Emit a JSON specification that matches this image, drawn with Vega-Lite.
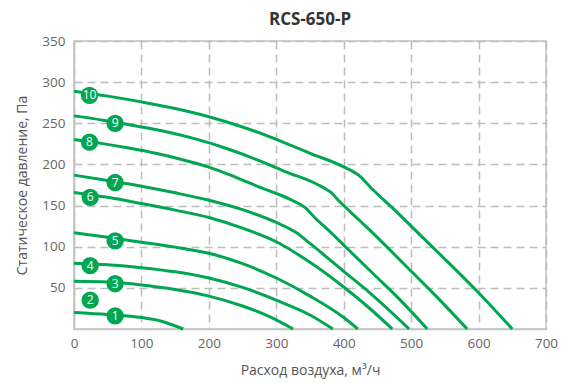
{
  "$schema": "https://vega.github.io/schema/vega-lite/v6.json",
  "autosize": {"type": "none"},
  "padding": {"left": 74, "top": 41, "right": 23, "bottom": 54},
  "width": 472,
  "height": 288,
  "background": "white",
  "title": {"text": "RCS-650-P", "anchor": "middle", "fontSize": 17, "fontWeight": "bold", "color": "#333333", "font": "Open Sans", "offset": 5},
  "config": {
    "view": {"stroke": "#c4c4c4", "strokeWidth": 1.5},
    "axis": {
      "domainColor": "#c4c4c4", "domainWidth": 1.5,
      "gridColor": "#bdbdbd", "gridDash": [8, 5], "gridWidth": 1.5,
      "ticks": false, "labelFlush": false,
      "labelFont": "Open Sans", "labelFontSize": 13.5, "labelColor": "#666666",
      "titleFont": "Open Sans", "titleFontSize": 14, "titleFontWeight": "normal", "titleColor": "#555555"
    }
  },
  "datasets": {
    "curves": [
      {"curve": "1", "q": 0, "p": 20}, {"curve": "1", "q": 50, "p": 17.5}, {"curve": "1", "q": 100, "p": 14}, {"curve": "1", "q": 130, "p": 9.5}, {"curve": "1", "q": 162, "p": 0},
      {"curve": "3", "q": 0, "p": 58}, {"curve": "3", "q": 50, "p": 57}, {"curve": "3", "q": 100, "p": 53.5}, {"curve": "3", "q": 150, "p": 48}, {"curve": "3", "q": 200, "p": 40}, {"curve": "3", "q": 250, "p": 28}, {"curve": "3", "q": 290, "p": 15}, {"curve": "3", "q": 325, "p": 0},
      {"curve": "4", "q": 0, "p": 80}, {"curve": "4", "q": 50, "p": 78}, {"curve": "4", "q": 100, "p": 74.5}, {"curve": "4", "q": 150, "p": 69.5}, {"curve": "4", "q": 200, "p": 62}, {"curve": "4", "q": 250, "p": 50.5}, {"curve": "4", "q": 300, "p": 35}, {"curve": "4", "q": 350, "p": 17}, {"curve": "4", "q": 384, "p": 0},
      {"curve": "5", "q": 0, "p": 117}, {"curve": "5", "q": 50, "p": 111.5}, {"curve": "5", "q": 100, "p": 105.5}, {"curve": "5", "q": 150, "p": 99.5}, {"curve": "5", "q": 200, "p": 92}, {"curve": "5", "q": 250, "p": 79.5}, {"curve": "5", "q": 300, "p": 62}, {"curve": "5", "q": 350, "p": 40}, {"curve": "5", "q": 400, "p": 14}, {"curve": "5", "q": 421, "p": 0},
      {"curve": "6", "q": 0, "p": 166}, {"curve": "6", "q": 50, "p": 160}, {"curve": "6", "q": 100, "p": 152.5}, {"curve": "6", "q": 150, "p": 144.5}, {"curve": "6", "q": 200, "p": 135.5}, {"curve": "6", "q": 250, "p": 122.5}, {"curve": "6", "q": 300, "p": 106}, {"curve": "6", "q": 350, "p": 81}, {"curve": "6", "q": 400, "p": 51}, {"curve": "6", "q": 440, "p": 24}, {"curve": "6", "q": 472, "p": 0},
      {"curve": "7", "q": 0, "p": 187}, {"curve": "7", "q": 50, "p": 180.5}, {"curve": "7", "q": 100, "p": 173.5}, {"curve": "7", "q": 150, "p": 165.5}, {"curve": "7", "q": 200, "p": 156.5}, {"curve": "7", "q": 250, "p": 145}, {"curve": "7", "q": 300, "p": 129.5}, {"curve": "7", "q": 330, "p": 117}, {"curve": "7", "q": 350, "p": 104}, {"curve": "7", "q": 400, "p": 70}, {"curve": "7", "q": 440, "p": 43}, {"curve": "7", "q": 497, "p": 0},
      {"curve": "8", "q": 0, "p": 230.3}, {"curve": "8", "q": 40, "p": 225.6}, {"curve": "8", "q": 81, "p": 220}, {"curve": "8", "q": 121, "p": 213.6}, {"curve": "8", "q": 161, "p": 205.6}, {"curve": "8", "q": 201, "p": 196.5}, {"curve": "8", "q": 242, "p": 183.7}, {"curve": "8", "q": 282, "p": 170.2}, {"curve": "8", "q": 322, "p": 157}, {"curve": "8", "q": 343, "p": 147.4}, {"curve": "8", "q": 355, "p": 137.1}, {"curve": "8", "q": 383, "p": 115.6}, {"curve": "8", "q": 403, "p": 99.6}, {"curve": "8", "q": 443, "p": 67.7}, {"curve": "8", "q": 484, "p": 35.1}, {"curve": "8", "q": 524, "p": 0},
      {"curve": "9", "q": 0, "p": 259}, {"curve": "9", "q": 45, "p": 253.5}, {"curve": "9", "q": 90, "p": 247}, {"curve": "9", "q": 135, "p": 240}, {"curve": "9", "q": 180, "p": 231}, {"curve": "9", "q": 224, "p": 220}, {"curve": "9", "q": 269, "p": 206.5}, {"curve": "9", "q": 314, "p": 191}, {"curve": "9", "q": 359, "p": 176.5}, {"curve": "9", "q": 381, "p": 166}, {"curve": "9", "q": 395, "p": 154}, {"curve": "9", "q": 426, "p": 130}, {"curve": "9", "q": 449, "p": 112}, {"curve": "9", "q": 493, "p": 76}, {"curve": "9", "q": 538, "p": 39}, {"curve": "9", "q": 583, "p": 0},
      {"curve": "10", "q": 0, "p": 289}, {"curve": "10", "q": 50, "p": 283}, {"curve": "10", "q": 100, "p": 276}, {"curve": "10", "q": 150, "p": 268}, {"curve": "10", "q": 200, "p": 258}, {"curve": "10", "q": 250, "p": 245.5}, {"curve": "10", "q": 300, "p": 230.5}, {"curve": "10", "q": 350, "p": 213.5}, {"curve": "10", "q": 400, "p": 197}, {"curve": "10", "q": 425, "p": 185}, {"curve": "10", "q": 440, "p": 172}, {"curve": "10", "q": 475, "p": 145}, {"curve": "10", "q": 500, "p": 125}, {"curve": "10", "q": 550, "p": 85}, {"curve": "10", "q": 600, "p": 44}, {"curve": "10", "q": 650, "p": 0}
    ],
    "labels": [
      {"label": "10", "q": 23, "p": 284},
      {"label": "9", "q": 61, "p": 250},
      {"label": "8", "q": 23, "p": 227},
      {"label": "7", "q": 61, "p": 178},
      {"label": "6", "q": 24, "p": 160},
      {"label": "5", "q": 61, "p": 107},
      {"label": "4", "q": 24, "p": 77},
      {"label": "3", "q": 61, "p": 55},
      {"label": "2", "q": 24, "p": 35},
      {"label": "1", "q": 61, "p": 16}
    ]
  },
  "encoding": {
    "x": {"field": "q", "type": "quantitative", "scale": {"domain": [0, 700], "nice": false},
      "axis": {"values": [0, 100, 200, 300, 400, 500, 600, 700], "title": "Расход воздуха, м³/ч", "labelPadding": 7, "titlePadding": 14}},
    "y": {"field": "p", "type": "quantitative", "scale": {"domain": [0, 350], "nice": false},
      "axis": {"values": [50, 100, 150, 200, 250, 300, 350], "title": "Статическое давление, Па", "labelPadding": 9, "titlePadding": 12}}
  },
  "layer": [
    {
      "data": {"name": "curves"},
      "mark": {"type": "line", "color": "#00a651", "strokeWidth": 3, "interpolate": "monotone"},
      "encoding": {"detail": {"field": "curve", "type": "nominal"}, "order": {"field": "q", "type": "quantitative"}}
    },
    {
      "data": {"name": "labels"},
      "mark": {"type": "point", "filled": true, "color": "#00a651", "size": 300, "opacity": 1}
    },
    {
      "data": {"name": "labels"},
      "mark": {"type": "text", "color": "white", "fontSize": 12, "font": "Open Sans", "align": "center", "baseline": "middle"},
      "encoding": {"text": {"field": "label", "type": "nominal"}}
    }
  ]
}
